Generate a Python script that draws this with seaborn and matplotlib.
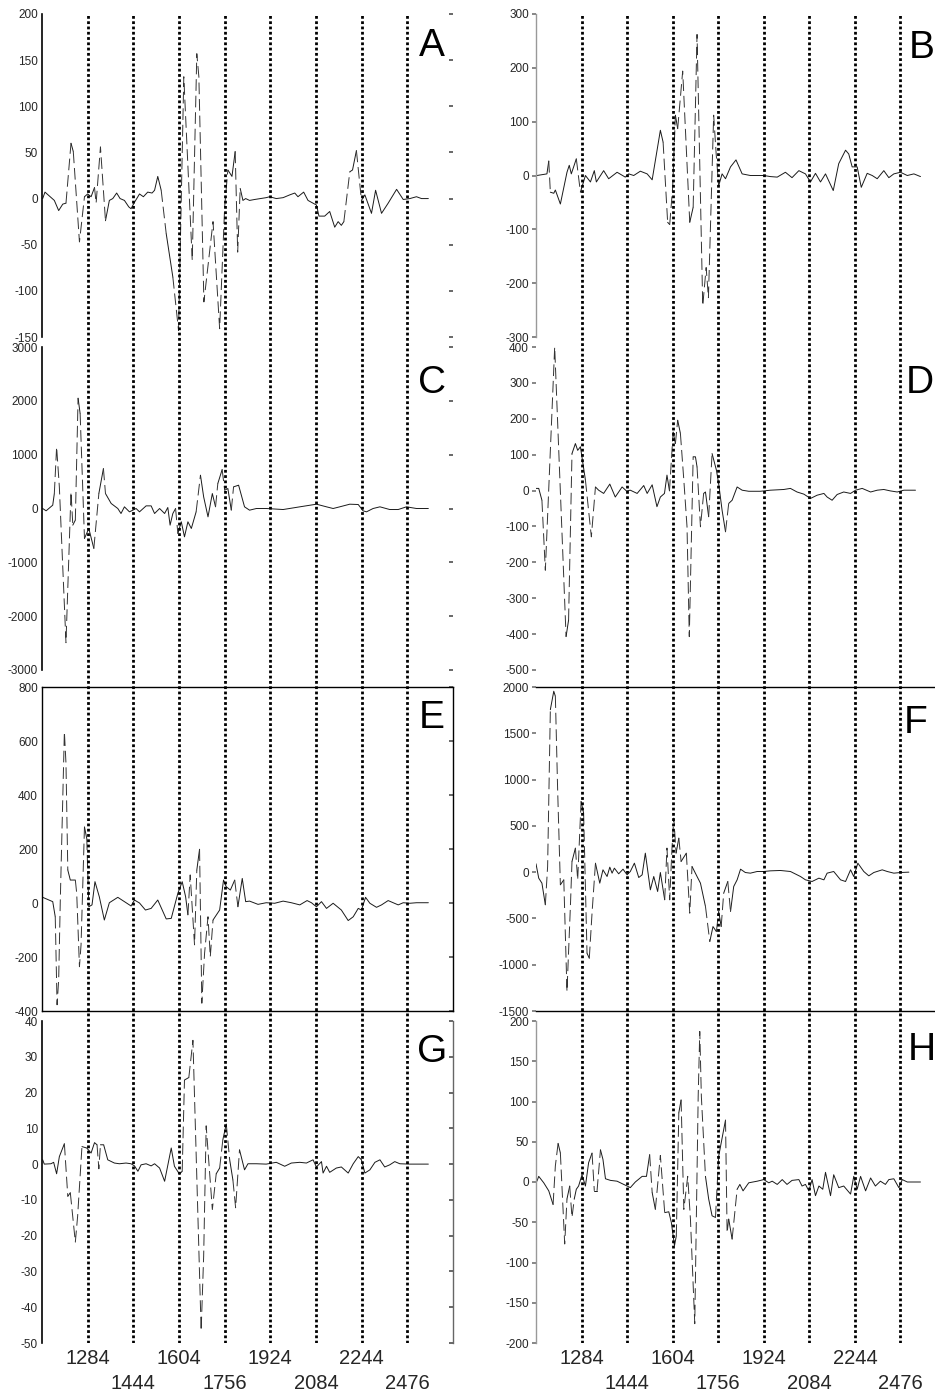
# Eight stacked difference traces (A-H) with dotted band markers
import numpy as np
import pandas as pd
import seaborn as sns
import matplotlib.pyplot as plt

# --- data: (sample index, value) ---
trace_a = [(0.3, 0), (1.3, 7), (5.4, -2), (7.3, -13), (9.1, -6), (10.5, -5), (12.7, 60), (13.7, 51),
           (16.4, -47), (18.6, 2), (20.0, 5), (21.5, 2), (23.0, 12), (23.7, -5), (25.6, 56), (27.8, -24),
           (29.5, -2), (31.0, 0), (32.7, 6), (34.2, 0), (36.1, -2), (38.0, -9), (39.0, -11), (40.5, -4),
           (41.5, 0), (42.7, 5), (44.4, 2), (46.3, 7), (48.2, 6), (49.3, 9), (50.7, 24), (52.2, 9),
           (54.4, -38), (57.3, -85), (59.8, -143), (62.1, 132), (65.8, -67), (67.8, 157), (68.7, 132),
           (70.9, -112), (74.9, -25), (77.8, -141), (80.0, -9), (81.4, 31), (83.2, 24), (84.6, 51),
           (85.7, -58), (86.8, 11), (88.0, -2), (89.2, 0), (90.9, -2), (93.1, -1), (98.2, 1), (99.7, 2),
           (102.6, 0), (105.6, 1), (108.5, 4), (110.7, 6), (112.1, 2), (114.6, 7), (116.5, -2), (118.7, -5),
           (120.2, -7), (121.3, -19), (123.8, -19), (126.0, -14), (128.2, -31), (129.7, -25), (131.1, -29),
           (132.2, -25), (134.8, 29), (136.0, 31), (137.7, 52), (139.9, -2), (141.4, 4), (144.3, -16),
           (146.1, 9), (148.7, -16), (151.6, -5), (155.3, 10), (158.2, -1), (161.1, 0), (164.0, 2),
           (166.2, 0), (169.2, 0)]

trace_b = [(0.4, 0), (4.8, 3), (5.6, 27), (6.3, -31), (7.8, -33), (8.5, -27), (10.7, -53), (13.6, 6),
           (14.6, 19), (15.5, 3), (17.7, 31), (19.5, -31), (21.7, 0), (23.9, -12), (25.6, 9), (26.5, -12),
           (29.7, 9), (31.9, -6), (35.6, 6), (39.2, -3), (40.7, 3), (42.9, 0), (45.8, 8), (48.8, 3),
           (51.0, -8), (54.6, 84), (55.8, 62), (57.8, -87), (58.7, -91), (60.0, -22), (61.2, 112),
           (62.2, 87), (64.4, 194), (67.5, -87), (69.0, -59), (70.7, 262), (73.2, -242), (74.7, -171),
           (75.7, -227), (78.0, 112), (79.1, 40), (80.2, -19), (81.7, 3), (83.2, -6), (85.4, 16),
           (87.8, 29), (90.5, 3), (94.1, 0), (100.0, 0), (102.9, -2), (105.9, -3), (109.5, 6),
           (112.4, -4), (115.4, 9), (118.3, 3), (120.5, -12), (122.7, 4), (124.9, -12), (127.1, 3),
           (130.5, -28), (132.9, 22), (135.9, 47), (137.3, 40), (138.8, 16), (141.0, 16), (142.8, -22),
           (145.4, 4), (147.6, 0), (149.8, -6), (152.7, 9), (154.9, -4), (157.1, 3), (160.0, 6),
           (163.0, 0), (165.9, 3), (168.8, -2)]

trace_c = [(0.3, 0), (1.8, -43), (4.7, 62), (5.4, 278), (6.4, 1144), (7.6, 400), (10.5, -2493),
           (12.7, 309), (13.5, -309), (14.6, -216), (15.8, 2050), (16.7, 1763), (18.6, -557),
           (20.5, -371), (22.7, -742), (24.9, 278), (26.9, 742), (27.8, 278), (30.3, 93), (33.2, 0),
           (34.6, -93), (36.1, 31), (38.3, -62), (39.8, -31), (41.2, 0), (42.7, -62), (45.6, 49),
           (47.8, 49), (49.3, -93), (51.5, 0), (53.7, -93), (55.1, 19), (56.1, -309), (57.3, -93),
           (58.5, 0), (59.5, -464), (61.0, -247), (62.4, -526), (63.9, -247), (65.4, -371), (67.5, -62),
           (69.4, 619), (70.8, 216), (72.7, -155), (74.6, 278), (76.0, 31), (77.0, 464), (78.9, 724),
           (80.0, 340), (81.4, 371), (82.9, -31), (83.9, 402), (86.1, 433), (88.7, 31), (90.9, -31),
           (93.9, 0), (98.2, 0), (105.6, -19), (112.9, 31), (120.2, 80), (124.6, 31), (127.5, 0),
           (130.4, 31), (134.8, 80), (138.5, 74), (140.6, -43), (142.1, -62), (145.0, 0), (148.0, 31),
           (152.3, -19), (156.0, -19), (159.6, 31), (164.0, 0), (169.2, 0)]

trace_d = [(0, 6), (1.2, 6), (2.6, -27), (4.1, -222), (8.2, 400), (13.2, -407), (14.3, -361),
           (15.8, 103), (17.3, 131), (18.3, 112), (19.5, 122), (21.7, 29), (24.3, -129), (26.1, 10),
           (27.5, 1), (29.7, -8), (32.4, 18), (34.8, -18), (37.8, 10), (39.7, -1), (41.4, 1), (44.4, -8),
           (47.3, 14), (48.8, -8), (51.0, 16), (53.1, -45), (54.6, -18), (56.4, -8), (57.5, 43),
           (58.6, -1), (60.2, 163), (61.2, 131), (62.2, 196), (63.4, 159), (64.9, 29), (66.3, -101),
           (67.3, -407), (69.0, 94), (70.0, 94), (70.7, 66), (72.2, -101), (73.6, -8), (74.4, -4),
           (75.8, -73), (77.3, 103), (79.2, 57), (80.2, 19), (81.7, -55), (83.2, -115), (84.6, -36),
           (86.1, -27), (88.3, 10), (90.5, 1), (93.4, -2), (98.5, -2), (102.9, 1), (108.8, 3),
           (111.7, 6), (114.6, -4), (117.6, -10), (120.5, -22), (123.4, -13), (126.4, -8), (127.8, -18),
           (130.0, -27), (132.2, -11), (135.1, -4), (138.1, -8), (140.3, 1), (143.2, 6), (146.9, -4),
           (149.8, 1), (152.7, 3), (155.6, -1), (158.6, -4), (161.5, 1), (166.6, 1)]

trace_e = [(0.3, 21), (4.7, 5), (5.8, -51), (6.6, -377), (7.3, -285), (8.0, 5), (9.8, 634), (10.5, 517),
           (11.3, 122), (12.4, 85), (14.6, 85), (15.2, 36), (16.4, -236), (17.1, -155), (18.6, 282),
           (19.6, 239), (20.5, -14), (21.9, -7), (23.2, 79), (25.1, 23), (27.3, -63), (29.5, 1),
           (33.2, 21), (36.1, 5), (39.0, -11), (40.5, 11), (42.7, 0), (45.3, -26), (47.8, -20),
           (50.7, 11), (54.4, -59), (56.6, -57), (59.5, 36), (61.4, 79), (62.9, 23), (63.9, -44),
           (64.9, 104), (66.8, -155), (67.8, 122), (69.0, 199), (70.0, -371), (71.2, -186), (72.7, -51),
           (73.7, -199), (74.9, -63), (77.8, -26), (79.5, 85), (80.7, 60), (82.5, 48), (84.4, 85),
           (85.8, -14), (87.7, 91), (89.2, 5), (90.9, 7), (94.6, -5), (98.2, 1), (101.9, -1), (105.6, 7),
           (109.2, 1), (112.9, -7), (116.1, 9), (118.0, 1), (120.2, -14), (122.4, 5), (124.6, -20),
           (127.5, -1), (131.1, -26), (134.1, -65), (136.3, -51), (138.5, -20), (139.9, -26), (141.7, 21),
           (143.6, -1), (146.5, -16), (148.7, -7), (151.6, 9), (153.8, 1), (156.0, -7), (158.2, 1),
           (161.1, -1), (164.0, 1), (169.2, 1)]

trace_f = [(0, 90), (1.2, -65), (2.6, -119), (4.1, -353), (5.1, 61), (6.3, 1755), (7.8, 1954),
           (8.5, 1900), (9.5, 890), (10.7, -137), (12.2, -83), (13.6, -1290), (15.1, -371), (15.8, 115),
           (17.3, 260), (18.3, -83), (19.8, 764), (20.9, 638), (22.4, -876), (23.4, -930), (24.6, -443),
           (26.1, 97), (28.0, -119), (29.4, 25), (31.2, -47), (32.4, 54), (33.4, -11), (34.4, 43),
           (36.3, -18), (38.2, 32), (40.0, -29), (41.4, 7), (43.2, 97), (45.1, -58), (46.6, -29),
           (48.0, 205), (50.2, -191), (51.7, -47), (53.4, -209), (54.6, -4), (56.5, -299), (57.5, 260),
           (58.7, -299), (59.7, 260), (60.5, 584), (61.5, 205), (62.7, 368), (63.7, 115), (66.0, 205),
           (67.5, -443), (68.5, 61), (70.7, -47), (72.2, -119), (74.4, -371), (76.3, -750), (77.7, -588),
           (79.2, -642), (80.2, -425), (81.3, -588), (82.4, -227), (84.2, -101), (85.4, -425),
           (86.8, -155), (88.3, -83), (89.8, 32), (91.9, -4), (94.1, -11), (97.1, 7), (100.0, 7),
           (102.9, 14), (107.3, 18), (111.7, 7), (116.1, -47), (118.3, -83), (121.2, -101), (124.2, -65),
           (126.4, -83), (127.8, -11), (130.7, 7), (133.7, -83), (135.9, -101), (138.1, 25), (139.5, -47),
           (141.3, 97), (143.9, 7), (146.1, -40), (148.3, -4), (152.0, 25), (154.2, 7), (157.1, -11),
           (160.0, -4), (163.7, 0)]

trace_g = [(0.3, 1.2), (1.0, 0), (3.9, 0.1), (5.1, 0.5), (6.4, -2.7), (7.6, 2.1), (9.8, 5.7),
           (11.3, -9.0), (12.4, -8.0), (14.6, -21.8), (15.6, -14.6), (17.5, 4.9), (19.6, 4.5), (21.5, 3.1),
           (23.0, 6.0), (24.1, 5.4), (24.9, -1.3), (25.6, 5.4), (27.0, 5.4), (28.8, 1.2), (31.7, 0.3),
           (33.9, 0.1), (36.8, 0.3), (39.0, 0.1), (40.5, -0.5), (42.0, -2.0), (43.4, -0.2), (45.6, 0.1),
           (47.8, -0.5), (49.3, 0.1), (51.5, -1.1), (53.7, -4.8), (56.6, 4.5), (58.0, -0.6), (60.2, -2.8),
           (61.4, -2.0), (62.4, 23.5), (64.3, 24.2), (66.1, 34.6), (69.7, -46.6), (70.8, -25.7),
           (71.9, 10.7), (74.6, -12.7), (76.3, -2.7), (77.8, -1.1), (79.2, 6.8), (80.7, 11.2), (82.2, 1.2),
           (83.6, -4.4), (84.8, -12.2), (86.5, 4.0), (88.7, -1.6), (90.2, 0.1), (93.9, 0.1), (98.2, 0),
           (102.6, 0.5), (106.3, -0.6), (109.2, 0.3), (112.9, 0.5), (115.8, 0.3), (118.7, 1.2),
           (120.2, -0.8), (122.4, 0.7), (123.1, -2.5), (124.6, -0.6), (126.0, -2.3), (128.9, -1.1),
           (131.1, -0.8), (134.1, -2.5), (136.3, 0.1), (138.5, 2.1), (139.9, 1.2), (141.4, -2.5),
           (143.6, -1.6), (145.8, 0.5), (148.0, 1.2), (150.1, -0.8), (152.3, -0.2), (154.5, 0.7),
           (156.7, 0.1), (161.1, 0), (169.2, 0)]

trace_h = [(0.4, 1), (1.2, 7), (3.4, -1), (5.6, -11), (7.5, -28), (8.5, 20), (9.7, 48), (10.7, 36),
           (12.6, -77), (13.6, -21), (14.8, -5), (15.8, -44), (16.8, -21), (17.7, -9), (18.7, -5),
           (20.2, 9), (21.7, -5), (23.1, 24), (24.6, 36), (25.6, -11), (26.8, -11), (28.3, 40), (29.4, 28),
           (30.5, 4), (32.7, 2), (35.6, 1), (38.5, -3), (40.0, -5), (41.4, -7), (43.6, 0), (46.6, 7),
           (48.5, 7), (49.9, 34), (51.0, -13), (52.4, -34), (54.6, 33), (56.5, -38), (58.3, -37),
           (59.4, -50), (60.8, -79), (61.6, -67), (62.7, 86), (63.7, 102), (64.9, -34), (66.6, 7),
           (67.8, -46), (69.7, -176), (71.2, 106), (71.9, 187), (72.6, 106), (74.4, 7), (75.8, -21),
           (77.3, -42), (78.8, -44), (80.2, 32), (82.0, 59), (83.2, 77), (83.9, -63), (84.6, -46),
           (86.1, -71), (88.3, -9), (89.5, -3), (90.9, -11), (93.4, -1), (97.1, 1), (100.0, 3),
           (102.2, -1), (103.7, 1), (105.9, -3), (108.1, 3), (110.2, -3), (112.4, 2), (115.4, 3),
           (116.8, -5), (118.3, -3), (119.8, -11), (121.2, 3), (122.7, -17), (124.2, -5), (125.9, -9),
           (127.1, 12), (129.3, -17), (130.7, 9), (132.9, -7), (135.1, -5), (138.1, -15), (139.5, 7),
           (141.0, -9), (142.5, 7), (144.7, -11), (146.9, 5), (149.0, -5), (151.2, 1), (153.4, -3),
           (154.9, 3), (157.1, 4), (159.3, -7), (160.8, 3), (163.0, 0), (168.8, 0)]

band_pos = [20, 40, 60, 80, 100, 120, 140, 160]
band_labels = ["1284", "1444", "1604", "1756", "1924", "2084", "2244", "2476"]

# y ranges per panel (lo, hi, step)
y_ranges = {"A": (-150, 200, 50), "B": (-300, 300, 100), "C": (-3000, 3000, 1000),
            "D": (-500, 400, 100), "E": (-400, 800, 200), "F": (-1500, 2000, 500),
            "G": (-50, 40, 10), "H": (-200, 200, 50)}
traces = {"A": trace_a, "B": trace_b, "C": trace_c, "D": trace_d,
          "E": trace_e, "F": trace_f, "G": trace_g, "H": trace_h}

# --- layout (pixels) ---
W, H = 935, 1395
col_left = [42, 536]
col_width = [411, 410]
row_top = [14, 347, 687, 1021]
row_h = [323, 323, 324, 322]
letter_xy = {"A": (0.949, 0.90), "B": (0.94, 0.895), "C": (0.949, 0.89), "D": (0.935, 0.89),
             "E": (0.949, 0.905), "F": (0.925, 0.89), "G": (0.949, 0.905), "H": (0.94, 0.91)}

sns.set_theme(style="white")
plt.rcParams["font.family"] = ["Liberation Sans", "DejaVu Sans"]
plt.rcParams["axes.unicode_minus"] = False


def box(left, top, width, height):
    return [left / W, 1 - (top + height) / H, width / W, height / H]


def draw_trace(ax, pts):
    df = pd.DataFrame(pts, columns=["x", "y"])
    disp = ax.transData.transform(df[["x", "y"]].values)
    steep = np.abs(np.diff(disp[:, 1])) > 8 * np.abs(np.diff(disp[:, 0]))
    start = 0
    for i in range(1, len(steep) + 1):
        if i == len(steep) or steep[i] != steep[start]:
            seg = df.iloc[start:i + 1]
            if steep[start]:
                sns.lineplot(data=seg, x="x", y="y", ax=ax, color="#333333", lw=0.7,
                             linestyle=(0, (12, 5)), estimator=None, sort=False)
            else:
                sns.lineplot(data=seg, x="x", y="y", ax=ax, color="#1a1a1a", lw=0.7,
                             estimator=None, sort=False)
            start = i


fig = plt.figure(figsize=(W / 100, H / 100), dpi=100)
fig.patch.set_facecolor("white")

axes = {}
for k, name in enumerate("ABCDEFGH"):
    row, col = k // 2, k % 2
    ax = fig.add_axes(box(col_left[col], row_top[row], col_width[col], row_h[row]))
    lo, hi, step = y_ranges[name]
    ax.set_xlim(0, 180)
    ax.set_ylim(lo, hi)
    draw_trace(ax, traces[name])
    ax.set_xlim(0, 180)
    ax.set_ylim(lo, hi)
    ax.set(xlabel="", ylabel="")
    ax.set_yticks(np.arange(lo, hi + step / 2, step))
    ax.set_xticks([])
    ax.set_facecolor("none")
    for s in ax.spines.values():
        s.set_visible(False)
    if col == 0:
        ax.tick_params(axis="y", labelsize=8.5, pad=3, direction="in", length=3,
                       left=False, right=True, color="#555555")
        ax.spines["left"].set_visible(True)
        ax.spines["left"].set_color("black")
        ax.spines["left"].set_linewidth(1.2)
    else:
        ax.tick_params(axis="y", labelsize=8.5, pad=2, direction="out", length=3,
                       left=True, color="#777777")
        if name in ("B", "H"):
            ax.spines["left"].set_visible(True)
            ax.spines["left"].set_color("#999999")
            ax.spines["left"].set_linewidth(1.0)
    if name == "E":
        for s in ax.spines.values():
            s.set_visible(True)
            s.set_color("black")
            s.set_linewidth(1.0)
    if name == "F":
        for s in ("top", "bottom"):
            ax.spines[s].set_visible(True)
            ax.spines[s].set_color("black")
            ax.spines[s].set_linewidth(1.0)
    if name == "G":
        ax.spines["right"].set_visible(True)
        ax.spines["right"].set_color("#666666")
        ax.spines["right"].set_linewidth(1.0)
    lx, ly = letter_xy[name]
    ax.text(lx, ly, name, transform=ax.transAxes, ha="center", va="center",
            fontsize=28, color="black")
    if row == 3:
        ax.set_xticks(band_pos[0::2])
        ax.set_xticklabels(band_labels[0::2])
        ax.set_xticks(band_pos[1::2], minor=True)
        ax.set_xticklabels(band_labels[1::2], minor=True)
        ax.tick_params(axis="x", which="both", length=0, labelsize=14.5, bottom=True)
        ax.tick_params(axis="x", which="major", pad=4)
        ax.tick_params(axis="x", which="minor", pad=22)
    axes[name] = ax

# dotted band markers running through each column
for col in range(2):
    ov = fig.add_axes(box(col_left[col], row_top[0], col_width[col], row_top[3] + row_h[3] - row_top[0]))
    ov.set_xlim(0, 180)
    ov.set_ylim(0, 1)
    for x in band_pos:
        ov.axvline(x, color="black", lw=2.0, linestyle=(0, (1, 0.9)))
    ov.set_axis_off()

fig.savefig("out.png", dpi=100)
